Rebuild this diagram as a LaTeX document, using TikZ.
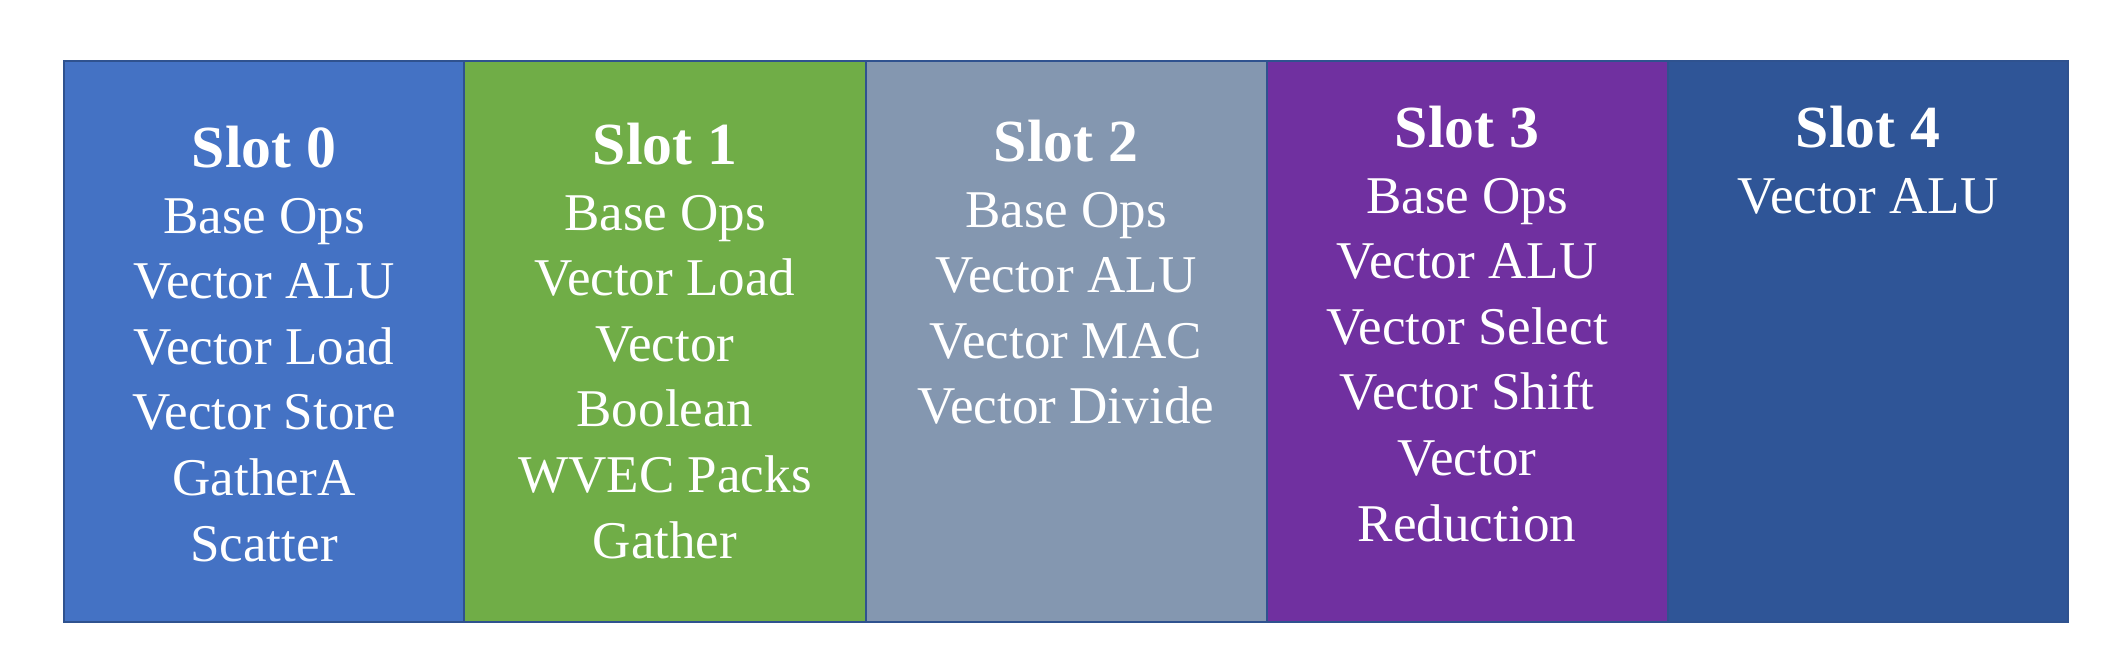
\documentclass[tikz,border=0pt]{standalone}
\usepackage{fontspec}
\setmainfont{Liberation Serif}
\begin{document}
\begin{tikzpicture}[x=0.02cm,y=0.02cm,
  txt/.style={anchor=north, align=center, text=white, inner sep=0pt, font=\fontsize{30.2}{37.3}\selectfont}]
\useasboundingbox (0,0) rectangle (2128,666);
\definecolor{c0}{HTML}{4472C4}\definecolor{c1}{HTML}{70AD47}\definecolor{c2}{HTML}{8497B0}
\definecolor{c3}{HTML}{7030A0}\definecolor{c4}{HTML}{2F5597}
\fill[c0] (64,44) rectangle (464,605);
\fill[c1] (464,44) rectangle (866,605);
\fill[c2] (866,44) rectangle (1267,605);
\fill[c3] (1267,44) rectangle (1668,605);
\fill[c4] (1668,44) rectangle (2068,605);
\draw[color={rgb,255:red,47;green,82;blue,143}, line width=1.2pt] (64,44) rectangle (2068,605)
  (464,44)--(464,605) (866,44)--(866,605) (1267,44)--(1267,605) (1668,44)--(1668,605);
\node[txt] (t0) at (264,540) {{\bfseries\fontsize{34}{37.3}\selectfont Slot 0}\\Base Ops\\Vector ALU\\Vector Load\\Vector Store\\GatherA\\Scatter};
\node[txt] (t1) at (665,543) {{\bfseries\fontsize{34}{37.3}\selectfont Slot 1}\\Base Ops\\Vector Load\\Vector\\Boolean\\WVEC Packs\\Gather};
\node[txt] (t2) at (1066,546) {{\bfseries\fontsize{34}{37.3}\selectfont Slot 2}\\Base Ops\\Vector ALU\\Vector MAC\\Vector Divide};
\node[txt] (t3) at (1467,560) {{\bfseries\fontsize{34}{37.3}\selectfont Slot 3}\\Base Ops\\Vector ALU\\Vector Select\\Vector Shift\\Vector\\Reduction};
\node[txt] (t4) at (1868,560) {{\bfseries\fontsize{34}{37.3}\selectfont Slot 4}\\Vector ALU};
\end{tikzpicture}
\end{document}
